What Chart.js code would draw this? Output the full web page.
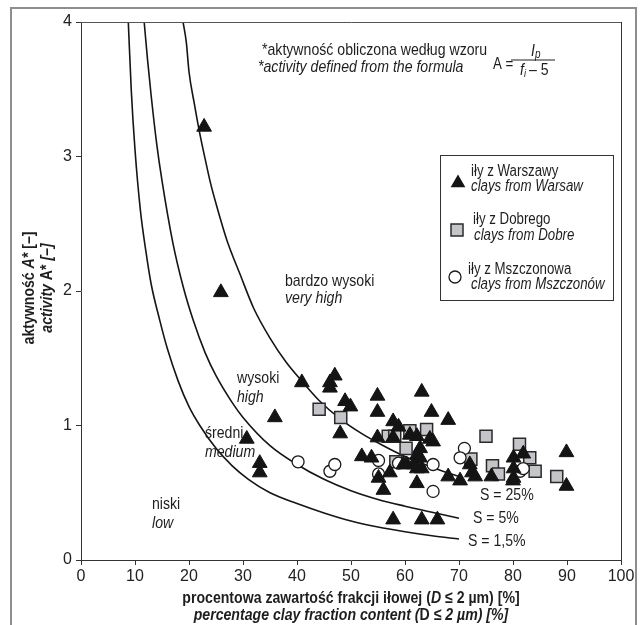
<!DOCTYPE html>
<html><head><meta charset="utf-8">
<script src="https://cdn.jsdelivr.net/npm/chart.js@4.4.1/dist/chart.umd.min.js"></script>
<style>
html,body{margin:0;padding:0;background:#fff;overflow:hidden;}
#wrap{position:relative;width:641px;height:625px;}
</style></head>
<body><div id="wrap"><canvas id="c" width="641" height="625"></canvas></div>
<script>
const xTicks = [0,10,20,30,40,50,60,70,80,90,100];
const yTicks = [0,1,2,3,4];

const warsawClay = [22.8,25.9,30.7,33.1,33.1,35.9,40.9,46.1,46.1,47.0,48.9,49.9,48.0,54.9,54.9,54.9,52.0,53.8,57.8,58.8,57.8,63.1,64.9,68.0,60.9,62.2,64.6,65.2,62.8,62.2,62.8,60.3,62.2,63.1,57.2,55.1,56.0,62.2,68.0,70.2,72.0,72.4,73.0,76.0,80.1,80.1,80.1,80.0,81.9,89.9,89.9,57.8,63.1,66.0,61.6,59.7];
const warsawActivity = [3.22,1.99,0.90,0.72,0.65,1.06,1.32,1.32,1.28,1.37,1.18,1.14,0.94,1.22,1.10,0.91,0.77,0.76,1.03,0.99,0.91,1.25,1.10,1.04,0.93,0.92,0.90,0.88,0.83,0.78,0.76,0.71,0.68,0.68,0.65,0.61,0.52,0.57,0.62,0.59,0.71,0.65,0.62,0.62,0.76,0.68,0.61,0.59,0.79,0.80,0.55,0.30,0.30,0.30,0.71,0.71];

const dobreClay = [44.1,48.1,56.9,58.1,60.9,64.0,60.2,58.3,72.2,75.0,76.2,77.3,81.2,83.1,84.1,88.1];
const dobreActivity = [1.12,1.06,0.92,0.92,0.96,0.97,0.83,0.73,0.75,0.92,0.70,0.64,0.86,0.76,0.66,0.62];

const mszczonowClay = [40.2,46.1,47.0,55.1,55.1,58.8,65.2,65.2,71.0,70.2,81.3,81.9];
const mszczonowActivity = [0.73,0.66,0.71,0.74,0.64,0.72,0.71,0.51,0.83,0.76,0.66,0.68];

const curve25Clay = [18.9,19.5,20,21,22,23,24,25,27,29.4,32,35,38,40.9,44,48,52,56,60,65,70];
const curve25Activity = [4.0,3.85,3.63,3.39,3.17,2.98,2.80,2.65,2.38,2.13,1.87,1.65,1.47,1.33,1.19,1.05,0.94,0.85,0.77,0.69,0.62];
const curve5Clay = [11.7,12.3,13,14,15,17,19,20.8,23,25,28,30,35,40,45,50,55,60,65,70];
const curve5Activity = [4.0,3.73,3.45,3.10,2.82,2.36,2.02,1.78,1.54,1.37,1.17,1.06,0.85,0.71,0.60,0.515,0.45,0.40,0.355,0.31];
const curve15Clay = [8.76,9.3,10,11,12,13,14.6,16,18,20,22,25,28,31,35,40,45,50,55,60,65,70];
const curve15Activity = [4.0,3.5,3.05,2.6,2.3,2.05,1.78,1.57,1.33,1.14,1.0,0.83,0.70,0.60,0.50,0.42,0.35,0.29,0.245,0.21,0.18,0.156];

const FONT = "'Liberation Sans',Arial,Helvetica,sans-serif";
const SX = 0.83;
const INK = '#1e1e1e';
const pts = (xs, ys) => xs.map((x, i) => ({x: x, y: ys[i]}));

function rich(c, segs, x, y, align, size) {
  const fonts = segs.map(s => (s[1] || 'normal') + ' ' + (s[2] || 'normal') + ' ' + size + 'px ' + FONT);
  let total = 0;
  segs.forEach((s, i) => { c.font = fonts[i]; total += c.measureText(s[0]).width; });
  c.save();
  c.translate(x, y); c.scale(SX, 1);
  let cx = align === 'center' ? -total / 2 : 0;
  c.textAlign = 'left'; c.textBaseline = 'middle';
  segs.forEach((s, i) => { c.font = fonts[i]; c.fillText(s[0], cx, 0); cx += c.measureText(s[0]).width; });
  c.restore();
}
function t(c, s, x, y, style, size, weight) {
  c.save();
  c.font = style + ' ' + (weight || 'normal') + ' ' + size + 'px ' + FONT;
  c.textAlign = 'left'; c.textBaseline = 'middle';
  c.translate(x, y); c.scale(SX, 1);
  c.fillText(s, 0, 0);
  c.restore();
}

const annot = {
  id: 'annot',
  beforeDraw(chart) {
    const c = chart.ctx;
    c.save();
    c.fillStyle = '#fff'; c.fillRect(0, 0, chart.width, chart.height);
    c.strokeStyle = '#8e8e8e'; c.lineWidth = 2;
    c.beginPath(); c.moveTo(11, chart.height + 5); c.lineTo(11, 8); c.lineTo(636, 8); c.lineTo(636, chart.height + 5); c.stroke();
    c.restore();
  },
  afterDraw(chart) {
    const c = chart.ctx, a = chart.chartArea;
    c.save();
    c.strokeStyle = '#555'; c.lineWidth = 1;
    c.beginPath(); c.moveTo(a.left, a.top + 0.5); c.lineTo(a.right + 0.5, a.top + 0.5); c.stroke();
    c.strokeStyle = '#333';
    c.beginPath(); c.moveTo(a.right + 0.5, a.top); c.lineTo(a.right + 0.5, a.bottom); c.stroke();
    c.fillStyle = INK;
    // y title
    c.save(); c.translate(29, 288); c.rotate(-Math.PI / 2);
    rich(c, [['aktywność ', 'normal', 'bold'], ['A*', 'italic', 'bold'], [' [–]', 'normal', 'bold']], 0, 0, 'center', 17);
    c.restore();
    c.save(); c.translate(47, 288); c.rotate(-Math.PI / 2);
    rich(c, [['activity ', 'italic', 'bold'], ['A*', 'normal', 'bold'], [' [–]', 'italic', 'bold']], 0, 0, 'center', 17);
    c.restore();
    // x title
    const cx = (a.left + a.right) / 2;
    rich(c, [['procentowa zawartość frakcji iłowej (', 'normal', 'bold'], ['D', 'italic', 'bold'], [' ≤ 2 µm) [%]', 'normal', 'bold']], cx, 598, 'center', 17);
    rich(c, [['percentage clay fraction content (', 'italic', 'bold'], ['D', 'normal', 'bold'], [' ≤ 2 µm) [%]', 'italic', 'bold']], cx, 615, 'center', 17);
    // note
    t(c, '*aktywność obliczona według wzoru', 262, 50, 'normal', 17);
    t(c, '*activity defined from the formula', 258, 67, 'italic', 17);
    t(c, 'A =', 493, 65, 'normal', 16);
    t(c, 'I', 531, 51, 'italic', 17);
    t(c, 'p', 535, 55, 'italic', 12);
    c.strokeStyle = INK; c.lineWidth = 1;
    c.beginPath(); c.moveTo(511, 60); c.lineTo(555, 60); c.stroke();
    t(c, 'f', 520, 70, 'italic', 17);
    t(c, 'i', 524, 74, 'italic', 11);
    t(c, '– 5', 529, 70, 'normal', 17);
    // region labels
    t(c, 'bardzo wysoki', 285, 281, 'normal', 17);
    t(c, 'very high', 285, 298, 'italic', 17);
    t(c, 'wysoki', 237, 378, 'normal', 17);
    t(c, 'high', 237, 397, 'italic', 17);
    t(c, 'średni', 205, 433, 'normal', 17);
    t(c, 'medium', 205, 452, 'italic', 17);
    t(c, 'niski', 152, 504, 'normal', 17);
    t(c, 'low', 152, 523, 'italic', 17);
    t(c, 'S = 25%', 480, 495, 'normal', 17);
    t(c, 'S = 5%', 473, 518, 'normal', 17);
    t(c, 'S = 1,5%', 468, 541, 'normal', 17);
    // legend
    c.fillStyle = '#fff'; c.fillRect(440, 155, 173, 145);
    c.strokeStyle = '#333'; c.lineWidth = 1; c.strokeRect(440.5, 155.5, 173, 145);
    c.fillStyle = '#141414';
    const r = 8.5;
    c.beginPath(); c.moveTo(458, 183 - r); c.lineTo(458 + 0.866 * r, 183 + r / 2); c.lineTo(458 - 0.866 * r, 183 + r / 2); c.closePath(); c.fill();
    c.fillStyle = '#c3c5c9'; c.fillRect(451, 224, 12, 12);
    c.strokeStyle = '#2a2a2a'; c.lineWidth = 1.5; c.strokeRect(451, 224, 12, 12);
    c.fillStyle = '#fff'; c.strokeStyle = '#1a1a1a'; c.lineWidth = 1.3;
    c.beginPath(); c.arc(455, 277, 6, 0, Math.PI * 2); c.fill(); c.stroke();
    c.fillStyle = INK;
    t(c, 'iły z Warszawy', 471, 172, 'normal', 16);
    t(c, 'clays from Warsaw', 471, 187, 'italic', 16);
    t(c, 'iły z Dobrego', 473, 220, 'normal', 16);
    t(c, 'clays from Dobre', 474, 236, 'italic', 16);
    t(c, 'iły z Mszczonowa', 468, 270, 'normal', 16);
    t(c, 'clays from Mszczonów', 471, 285, 'italic', 16);
    c.restore();
  }
};

const curveStyle = {showLine: true, pointRadius: 0, pointHoverRadius: 0, borderColor: '#151515', borderWidth: 1.6, fill: false, cubicInterpolationMode: 'monotone'};

new Chart(document.getElementById('c'), {
  type: 'scatter',
  data: {
    datasets: [
      {label: 'iły z Warszawy', data: pts(warsawClay, warsawActivity), pointStyle: 'triangle', pointRadius: 8.5, backgroundColor: '#141414', borderColor: '#141414', borderWidth: 1, order: 1},
      {label: 'iły z Mszczonowa', data: pts(mszczonowClay, mszczonowActivity), pointStyle: 'circle', pointRadius: 6, backgroundColor: '#ffffff', borderColor: '#1a1a1a', borderWidth: 1.3, order: 2},
      {label: 'iły z Dobrego', data: pts(dobreClay, dobreActivity), pointStyle: 'rect', pointRadius: 8.5, backgroundColor: '#c3c5c9', borderColor: '#2a2a2a', borderWidth: 1.5, order: 3},
      Object.assign({label: 'S = 25%', data: pts(curve25Clay, curve25Activity), order: 4}, curveStyle),
      Object.assign({label: 'S = 5%', data: pts(curve5Clay, curve5Activity), order: 5}, curveStyle),
      Object.assign({label: 'S = 1,5%', data: pts(curve15Clay, curve15Activity), order: 6}, curveStyle)
    ]
  },
  options: {
    responsive: false, animation: false, events: [],
    layout: {padding: {left: 0, right: 20, top: 22, bottom: 0}},
    plugins: {legend: {display: false}, tooltip: {enabled: false}},
    scales: {
      x: {
        type: 'linear', min: 0, max: 100,
        afterBuildTicks: s => { s.ticks = xTicks.map(v => ({value: v})); },
        afterFit: s => { s.height = 65; },
        ticks: {font: {family: FONT, size: 16}, color: '#222', padding: 2, maxRotation: 0, autoSkip: false},
        grid: {drawOnChartArea: false, drawTicks: true, tickLength: 5, color: '#333'},
        border: {display: true, color: '#333', width: 1}
      },
      y: {
        type: 'linear', min: 0, max: 4,
        afterBuildTicks: s => { s.ticks = yTicks.map(v => ({value: v})); },
        afterFit: s => { s.width = 81; },
        ticks: {font: {family: FONT, size: 16}, color: '#222', padding: 4, autoSkip: false},
        grid: {drawOnChartArea: false, drawTicks: true, tickLength: 5, color: '#333'},
        border: {display: true, color: '#333', width: 1}
      }
    }
  },
  plugins: [annot]
});
</script></body></html>
